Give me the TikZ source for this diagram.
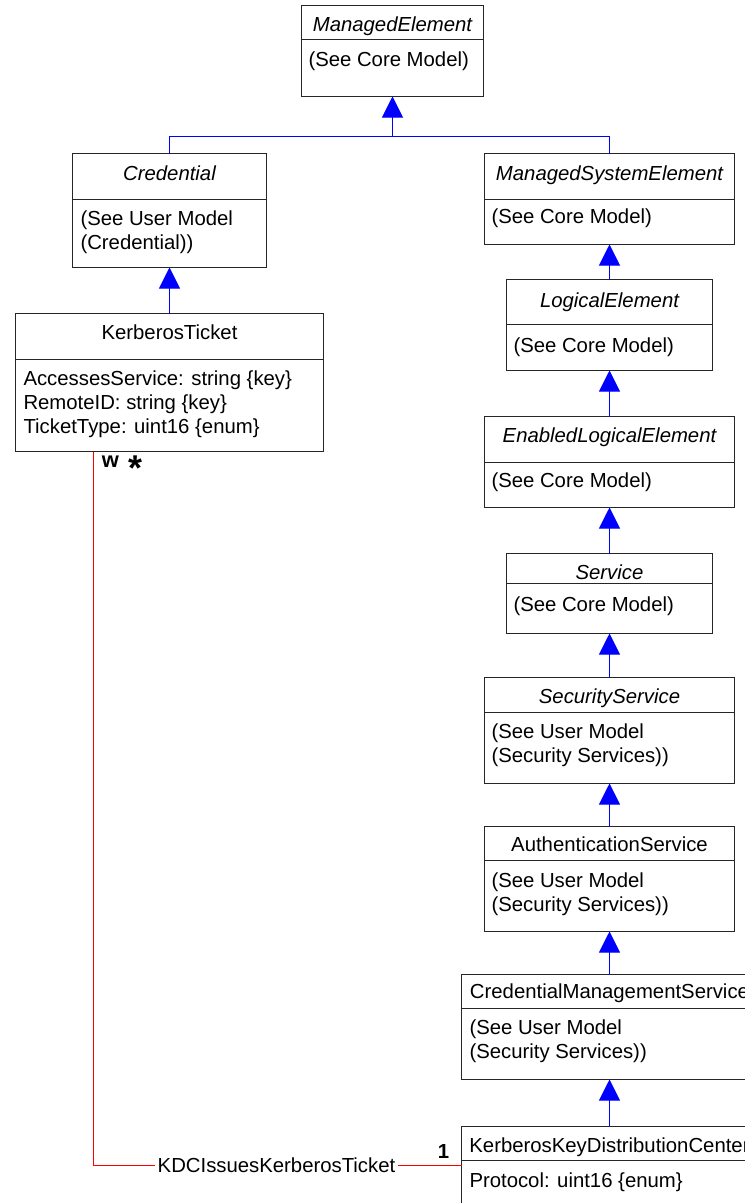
\documentclass[tikz,border=0pt]{standalone}
\usepackage{fontspec}
\setmainfont{Liberation Sans}
\usetikzlibrary{arrows.meta}
\tikzset{
  box/.style={draw=black!85, line width=1bp, inner sep=0pt, outer sep=0pt, rectangle},
  boxline/.style={draw=black!85, line width=1bp},
  txt/.style={inner sep=0pt, outer sep=0pt, font=\fontsize{20.4}{24}\selectfont},
  ttl/.style={txt, anchor=base},
  bdy/.style={txt, anchor=base west},
  inhline/.style={color=blue, line width=1bp},
  inh/.style={inhline, -{Triangle[width=21bp,length=21bp]}},
  assoc/.style={color=red, line width=1bp},
  mult/.style={inner sep=0pt, font=\fontsize{20.4}{24}\selectfont\bfseries},
}
\newcommand\umlbox[6]{%
  \node[box, anchor=north west, minimum width={(#4-#2)*1bp}, minimum height={(#6-#3)*1bp}] (#1) at (#2,#3) {};
  \draw[boxline] (#1.west |- 0,#5) -- (#1.east |- 0,#5);
}
\begin{document}
\begin{tikzpicture}[x=1bp,y=-1bp,shift={(0.5,0.5)}]
\useasboundingbox (-0.5,-0.5) rectangle (744.5,1202.5);
\clip (-0.5,-0.5) rectangle (744.5,1202.5);

% ManagedElement
\umlbox{me}{301}{5}{483}{39}{96}
\node[ttl] (me-t) at (392,31) {\itshape ManagedElement};
\node[bdy] (me-b1) at (308,66) {(See Core Model)};

% Credential
\umlbox{cred}{72}{153}{266}{199}{267}
\node[ttl] (cred-t) at (169,180) {\itshape Credential};
\node[bdy] (cred-b1) at (80,225) {(See User Model};
\node[bdy] (cred-b2) at (80,249) {(Credential))};

% KerberosTicket
\umlbox{kt}{15}{313}{323}{359}{451}
\node[ttl] (kt-t) at (169,339) {KerberosTicket};
\node[bdy] (kt-b1) at (23,385) {AccessesService: string \{key\}};
\node[bdy] (kt-b2) at (23,409) {RemoteID: string \{key\}};
\node[bdy] (kt-b3) at (23,433) {TicketType: uint16 \{enum\}};

% ManagedSystemElement
\umlbox{mse}{484}{153}{734}{199}{244}
\node[ttl] (mse-t) at (609,180) {\itshape ManagedSystemElement};
\node[bdy] (mse-b1) at (491,223) {(See Core Model)};

% LogicalElement
\umlbox{le}{506}{279}{712}{324}{370}
\node[ttl] (le-t) at (609,307) {\itshape LogicalElement};
\node[bdy] (le-b1) at (513,352) {(See Core Model)};

% EnabledLogicalElement
\umlbox{ele}{484}{416}{734}{462}{507}
\node[ttl] (ele-t) at (609,442) {\itshape EnabledLogicalElement};
\node[bdy] (ele-b1) at (491,487) {(See Core Model)};

% Service
\umlbox{svc}{506}{553}{712}{583}{633}
\node[ttl] (svc-t) at (609,579) {\itshape Service};
\node[bdy] (svc-b1) at (513,611) {(See Core Model)};

% SecurityService
\umlbox{ss}{484}{677}{734}{712}{783}
\node[ttl] (ss-t) at (609,703) {\itshape SecurityService};
\node[bdy] (ss-b1) at (491,738) {(See User Model};
\node[bdy] (ss-b2) at (491,762) {(Security Services))};

% AuthenticationService
\umlbox{auth}{484}{826}{734}{860}{931}
\node[ttl] (auth-t) at (609,851) {AuthenticationService};
\node[bdy] (auth-b1) at (491,887) {(See User Model};
\node[bdy] (auth-b2) at (491,911) {(Security Services))};

% CredentialManagementService
\umlbox{cms}{461}{974}{757}{1008}{1079}
\node[ttl] (cms-t) at (609,998) {CredentialManagementService};
\node[bdy] (cms-b1) at (469,1034) {(See User Model};
\node[bdy] (cms-b2) at (469,1058) {(Security Services))};

% KerberosKeyDistributionCenter
\umlbox{kkdc}{461}{1126}{757}{1160}{1215}
\node[ttl] (kkdc-t) at (609,1152) {KerberosKeyDistributionCenter};
\node[bdy] (kkdc-b1) at (469,1187) {Protocol: uint16 \{enum\}};

% inheritance connectors
\coordinate (j) at (392,136);
\draw[inhline] (cred.north) |- (j);
\draw[inhline] (mse.north) |- (j);
\draw[inh] (j) -- (me.south);
\draw[inh] (kt.north) -- (cred.south);
\draw[inh] (le.north) -- (le.north |- mse.south);
\draw[inh] (ele.north) -- (ele.north |- le.south);
\draw[inh] (svc.north) -- (svc.north |- ele.south);
\draw[inh] (ss.north) -- (ss.north |- svc.south);
\draw[inh] (auth.north) -- (auth.north |- ss.south);
\draw[inh] (cms.north) -- (cms.north |- auth.south);
\draw[inh] (kkdc.north) -- (cms.south);

% association
\coordinate (a1) at (93,451);
\coordinate (a2) at (461,1165);
\draw[assoc] (a1) |- (a2);
\node[txt, fill=white, inner xsep=3pt] (lbl) at (276,1165) {KDCIssuesKerberosTicket};
\node[mult, anchor=base] (m1) at (443,1158) {1};
\node[mult, anchor=base, font=\fontsize{22}{24}\selectfont\bfseries] (mw) at (110,467) {w};
\node[inner sep=0pt, anchor=base, font=\fontsize{36}{36}\selectfont\bfseries] (mstar) at (135,480) {*};
\end{tikzpicture}
\end{document}
